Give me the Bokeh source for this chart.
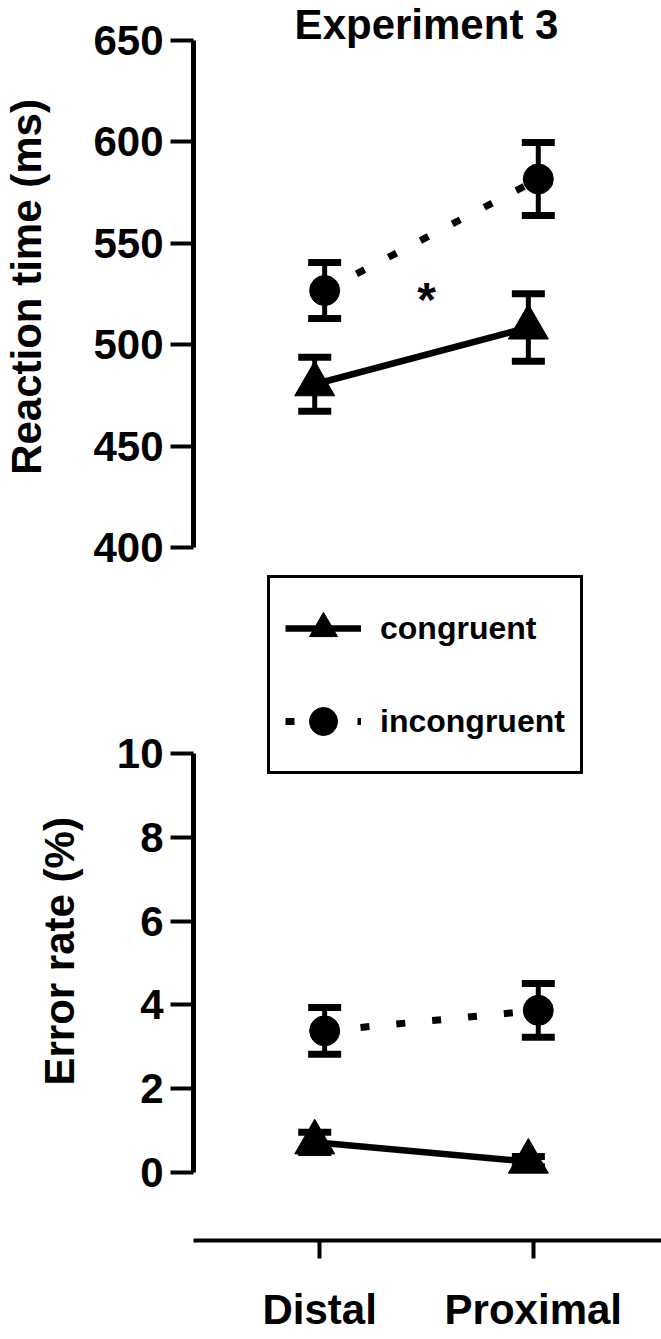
import numpy as np
from bokeh.plotting import figure
from bokeh.models import (ColumnDataSource, Whisker, TeeHead, FixedTicker, Range1d,
                          Legend, LegendItem, Label, Title)
from bokeh.layouts import column
from bokeh.embed import file_html
from bokeh.resources import INLINE
from bokeh.core.properties import value

# ---------------- data ----------------
conditions = ["Distal", "Proximal"]
series_names = ["congruent", "incongruent"]

rt_congruent = [480.5, 508.5]
rt_congruent_err = [13.3, 16.6]
rt_incongruent = [526.7, 581.7]
rt_incongruent_err = [13.8, 18.0]

er_congruent = [0.72, 0.26]
er_congruent_err = [0.24, 0.12]
er_incongruent = [3.38, 3.87]
er_incongruent_err = [0.56, 0.64]

rt_ticks = [400, 450, 500, 550, 600, 650]
er_ticks = [0, 2, 4, 6, 8, 10]

title_text = "Experiment 3"
rt_label = "Reaction time (ms)"
er_label = "Error rate (%)"
sig_text = "*"
sig_rt = 526.0          # level of the significance star (ms)

# ---------------- layout constants ----------------
FONT = "Liberation Sans"
W = 661
FRAME_LEFT = 190
X_PPU = 215.0            # pixels per category step
X0_PX = 317.0            # pixel of first category
H1 = 573                 # top figure height
RT_TOP_PX, RT_BOT_PX = 40.0, 547.0
H2 = 1339 - H1           # bottom figure height
MB_BOTTOM = 99
ER_TOP_ABS, ER_BOT_ABS = 753.0, 1172.0
ER_TOP_PX, ER_BOT_PX = ER_TOP_ABS - H1, ER_BOT_ABS - H1
FRAME2_H = H2 - MB_BOTTOM
ER_LABEL_START_ABS = 1085.0

x_idx = np.arange(len(conditions), dtype=float)
dodge = 5.0 / X_PPU
x_con = x_idx - dodge
x_inc = x_idx + dodge

x_range = Range1d(-(X0_PX - FRAME_LEFT) / X_PPU, (W - X0_PX) / X_PPU)

rt_lo, rt_hi = rt_ticks[0], rt_ticks[-1]
rt_ppu = (RT_BOT_PX - RT_TOP_PX) / (rt_hi - rt_lo)
rt_range = Range1d(rt_lo - (H1 - RT_BOT_PX) / rt_ppu, rt_hi + RT_TOP_PX / rt_ppu)

er_lo, er_hi = er_ticks[0], er_ticks[-1]
er_ppu = (ER_BOT_PX - ER_TOP_PX) / (er_hi - er_lo)
er_range = Range1d(er_lo - (FRAME2_H - ER_BOT_PX) / er_ppu, er_hi + ER_TOP_PX / er_ppu)


def make_fig(height, y_range, with_x):
    p = figure(width=W, height=height, x_range=x_range, y_range=y_range,
               output_backend="svg", toolbar_location=None,
               x_axis_location="below" if with_x else None,
               min_border_left=FRAME_LEFT, min_border_right=0,
               min_border_top=0, min_border_bottom=MB_BOTTOM if with_x else 0)
    p.outline_line_color = None
    p.grid.visible = False
    p.background_fill_color = "white"
    p.border_fill_color = "white"
    return p


def style_yaxis(ax, ticks, label):
    ax.ticker = FixedTicker(ticks=ticks)
    ax.bounds = (ticks[0], ticks[-1])
    ax.axis_label = label
    ax.axis_line_width = 5
    ax.axis_line_color = "black"
    ax.major_tick_line_width = 4
    ax.major_tick_line_color = "black"
    ax.major_tick_out = 23
    ax.major_tick_in = 0
    ax.minor_tick_line_color = None
    ax.major_label_standoff = 7
    ax.major_label_text_font = FONT
    ax.major_label_text_font_style = "bold"
    ax.major_label_text_font_size = "42px"
    ax.major_label_text_color = "black"
    ax.axis_label_standoff = 40
    ax.axis_label_text_font = FONT
    ax.axis_label_text_font_style = "bold"
    ax.axis_label_text_font_size = "42px"
    ax.axis_label_text_color = "black"


def draw_panel(p, con, con_err, inc, inc_err):
    con = np.array(con); con_err = np.array(con_err)
    inc = np.array(inc); inc_err = np.array(inc_err)
    for xs, m, e in ((x_con, con, con_err), (x_inc, inc, inc_err)):
        src = ColumnDataSource(dict(x=xs, upper=m + e, lower=m - e))
        p.add_layout(Whisker(source=src, base="x", upper="upper", lower="lower",
                             dimension="height", line_width=5, line_color="black",
                             upper_head=TeeHead(size=33, line_width=7, line_color="black"),
                             lower_head=TeeHead(size=33, line_width=7, line_color="black")))
    l_inc = p.line(x_inc, inc, line_width=7, line_color="black", line_dash="9 27")
    l_con = p.line(x_con, con, line_width=6.5, line_color="black")
    s_inc = p.scatter(x_inc, inc, marker="circle", size=30, fill_color="black", line_color="black")
    s_con = p.scatter(x_con, con, marker="triangle", size=40, fill_color="black", line_color="black")
    return (l_con, s_con), (l_inc, s_inc)


# ---------------- top panel: reaction time ----------------
p1 = make_fig(H1, rt_range, with_x=False)
style_yaxis(p1.yaxis[0], rt_ticks, rt_label)
draw_panel(p1, rt_congruent, rt_congruent_err, rt_incongruent, rt_incongruent_err)
p1.text(x=[x_idx.mean()], y=[sig_rt], text=[sig_text], text_font=value(FONT),
        text_font_style="bold", text_font_size="48px", text_align="center",
        text_baseline="middle", y_offset=8, text_color="black")
p1.add_layout(Label(x=x_idx.mean(), y=rt_range.end, text=title_text,
                    text_align="center", text_baseline="top", text_font=FONT,
                    text_font_style="bold", text_font_size="42px", text_color="black"))

# ---------------- bottom panel: error rate ----------------
p2 = make_fig(H2, er_range, with_x=True)
style_yaxis(p2.yaxis[0], er_ticks, "")
p2.yaxis[0].axis_label = None
p2.add_layout(Title(text=er_label, align="left", vertical_align="middle",
                    offset=(H1 + FRAME2_H) - ER_LABEL_START_ABS, standoff=60,
                    text_font=FONT, text_font_style="bold", text_font_size="42px",
                    text_color="black"), "left")
xa = p2.xaxis[0]
xa.ticker = FixedTicker(ticks=list(x_idx))
xa.major_label_overrides = {float(i): c for i, c in zip(x_idx, conditions)}
xa.axis_line_width = 4
xa.axis_line_color = "black"
xa.major_tick_line_width = 4
xa.major_tick_line_color = "black"
xa.major_tick_out = 18
xa.major_tick_in = 0
xa.minor_tick_line_color = None
xa.major_label_standoff = 27
xa.major_label_text_font = FONT
xa.major_label_text_font_style = "bold"
xa.major_label_text_font_size = "42px"
xa.major_label_text_color = "black"

(con_r, inc_r) = draw_panel(p2, er_congruent, er_congruent_err, er_incongruent, er_incongruent_err)

LEG_LEFT_ABS, LEG_BOTTOM_ABS = 264, 774
legend = Legend(items=[LegendItem(label=series_names[0], renderers=list(con_r)),
                       LegendItem(label=series_names[1], renderers=list(inc_r))],
                location=(LEG_LEFT_ABS - FRAME_LEFT, H1 + FRAME2_H - LEG_BOTTOM_ABS),
                glyph_width=76, glyph_height=70, label_standoff=19, spacing=23,
                padding=15, margin=0, border_line_color="black", border_line_width=3,
                border_line_alpha=1.0,
                background_fill_color="white", background_fill_alpha=1.0,
                label_text_font=FONT, label_text_font_style="bold",
                label_text_font_size="32px", label_text_color="black")
p2.add_layout(legend)

layout = column(p1, p2, spacing=0)
open("out.html", "w").write(file_html(layout, INLINE))
